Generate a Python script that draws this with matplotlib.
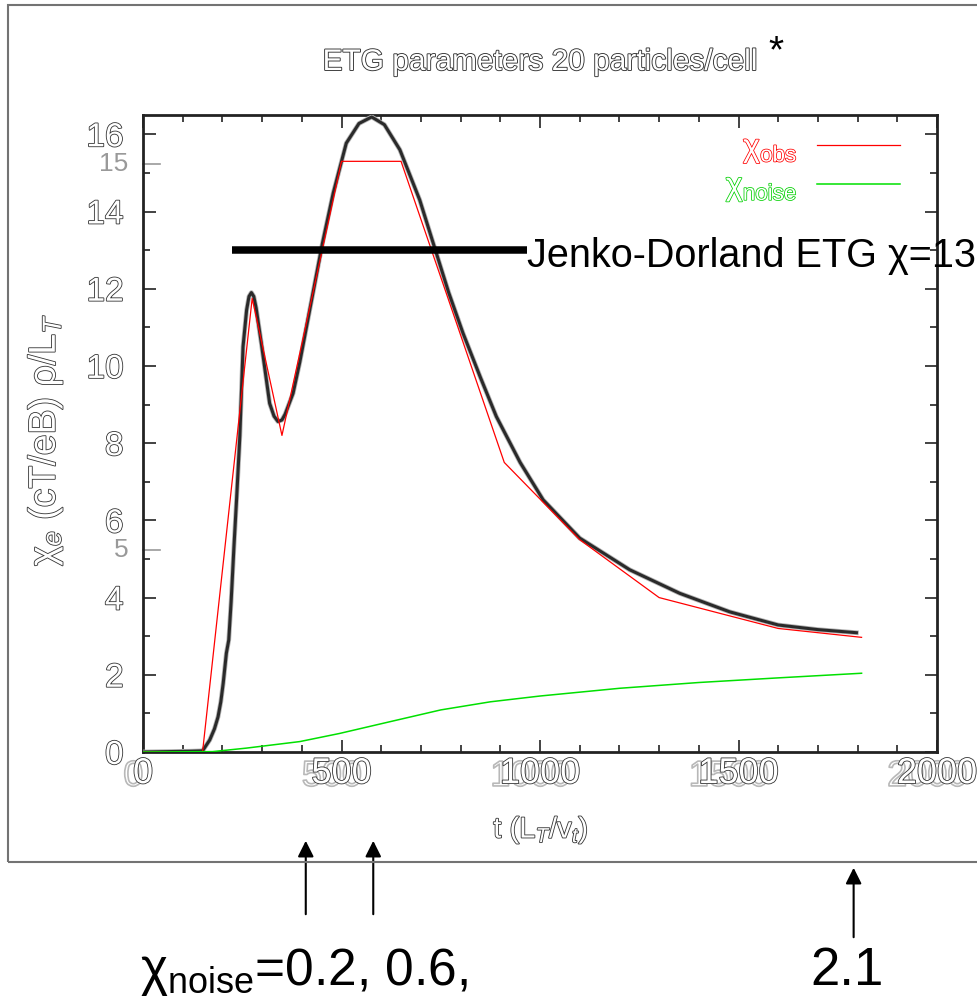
import numpy as np
import matplotlib
matplotlib.use("Agg")
import matplotlib.pyplot as plt
import matplotlib.patheffects as pe
import matplotlib.transforms as mtransforms
from matplotlib.patches import Rectangle

plt.rcParams['font.family'] = ['Liberation Sans', 'DejaVu Sans']
plt.rcParams['mathtext.fontset'] = 'custom'
plt.rcParams['mathtext.rm'] = 'Liberation Sans'
plt.rcParams['mathtext.it'] = 'Liberation Sans:italic'

# chi_e (black curve)
t_chi = [0, 120, 150, 168, 180, 189, 196, 202, 210, 216, 222, 229, 236, 244, 252, 261, 267, 273,
         279, 285, 298, 319, 330, 340, 350, 358, 378, 395, 412, 432, 452, 479, 512, 544, 576,
         608, 647, 697, 731, 770, 806, 850, 890, 950, 1008, 1100, 1226, 1352,
         1478, 1600, 1700, 1797]
v_chi = [0, 0.02, 0.03, 0.31, 0.6, 0.91, 1.3, 1.78, 2.56, 2.9, 3.9, 5.3, 6.6, 8.2, 10.5, 11.45, 11.8, 11.9,
         11.8, 11.5, 10.59, 9.03, 8.7, 8.56, 8.6, 8.75, 9.29, 10.1, 11.02, 12.1, 13.18, 14.47, 15.77, 16.28, 16.45,
         16.25, 15.6, 14.3, 13.18, 11.9, 10.85, 9.7, 8.69, 7.5, 6.53, 5.54, 4.72, 4.11,
         3.63, 3.29, 3.17, 3.09]

# chi_obs (red)
t_obs = [0, 150, 275, 350, 500, 650, 910, 1100, 1300, 1600, 1810]
v_obs = [0, 0, 11.75, 8.2, 15.3, 15.3, 7.5, 5.5, 4.0, 3.2, 2.97]

# chi_noise (green)
t_noise = [0, 175, 260, 395, 495, 620, 750, 875, 1000, 1200, 1400, 1600, 1810]
v_noise = [0, 0.01, 0.1, 0.27, 0.48, 0.78, 1.09, 1.30, 1.45, 1.65, 1.80, 1.92, 2.04]

jd_chi = 13
jd_t = [225, 968]
arrow_t = [410, 580, 1790]


def hollow(edge='#333333', lw=1.2, shadow=None):
    fx = []
    if shadow is not None:
        fx.append(pe.Stroke(offset=shadow, linewidth=lw, foreground='0.72'))
    fx += [pe.Stroke(linewidth=lw, foreground=edge), pe.Normal()]
    return fx


fig = plt.figure(figsize=(9.77, 10), dpi=100)
ax = fig.add_axes([143 / 977, 248 / 1000, 794 / 977, 637 / 1000])

ax.plot(t_chi, v_chi, color='#2a2a2a', lw=2.2, solid_joinstyle='round',
        path_effects=[pe.Stroke(linewidth=3.4, foreground='0.7'), pe.Normal()], zorder=3)
ax.plot(t_obs, v_obs, color='#ff0000', lw=0.9, label='χ$_{\\rm obs}$', zorder=4)
ax.plot(t_noise, v_noise, color='#00e000', lw=1.1, label='χ$_{\\rm noise}$', zorder=4)
ax.hlines(jd_chi, jd_t[0], jd_t[1], colors='black', lw=5.4, zorder=5)

ax.set_xlim(0, 2000)
ax.set_ylim(0, 16.5)
ax.set_xticks([0, 500, 1000, 1500, 2000])
ax.set_xticks(np.arange(0, 2001, 100), minor=True)
ax.set_yticks(np.arange(0, 17, 2))
ax.set_yticks(np.arange(0, 17, 1), minor=True)
ax.tick_params(which='both', direction='in', top=True, right=True, width=1.2, color='#222222')
ax.tick_params(which='major', length=9)
ax.tick_params(which='minor', length=5)
ax.tick_params(axis='x', pad=3)
ax.tick_params(axis='y', pad=14)
for s in ax.spines.values():
    s.set_linewidth(2)
    s.set_color('#222222')

for lab in ax.get_xticklabels():
    lab.set_fontsize(26)
    lab.set_color('white')
    lab.set_path_effects(hollow(shadow=(-7, -2)))
for lab in ax.get_yticklabels():
    lab.set_fontsize(24)
    lab.set_color('white')
    lab.set_path_effects(hollow())

# faint overlay labels of the pasted second axis
blend_y = mtransforms.blended_transform_factory(ax.transAxes, ax.transData)
for val, txt in [(15.23, '15'), (5.24, '5')]:
    ax.text(-0.018, val, txt, transform=blend_y, ha='right', va='center',
            fontsize=19, color='0.6')
    ax.plot([0, 0.022], [val, val], transform=blend_y, color='0.6', lw=1.2, clip_on=False)

ax.set_xlabel('t (L$_T$/v$_t$)', fontsize=21, color='white')
ax.xaxis.label.set_path_effects(hollow())
ax.xaxis.set_label_coords(0.501, -0.122)
ax.xaxis.label.set_va('center')
ax.set_ylabel('χ$_e$ (cT/eB) ρ/L$_T$', fontsize=27, color='white')
ax.yaxis.label.set_path_effects(hollow())
ax.yaxis.set_label_coords(-0.1234, 0.49)
ax.yaxis.label.set_va('center')

leg = ax.legend(loc='upper right', bbox_to_anchor=(0.953, 0.971), frameon=False,
                markerfirst=False, fontsize=23, handlelength=2.6, handletextpad=0.6,
                labelspacing=0.2, borderpad=0, borderaxespad=0)
for txt, c in zip(leg.get_texts(), ['#ff0000', '#00d000']):
    txt.set_color('white')
    txt.set_path_effects(hollow(edge=c, lw=1.1))

fig.text(540 / 977, 1 - 62 / 1000, 'ETG parameters 20 particles/cell', fontsize=21.5,
         ha='center', va='center', color='white', path_effects=hollow(edge='#333333', lw=1.3))
fig.text(776 / 977, 1 - 52 / 1000, '*', fontsize=28, ha='center', va='center', color='black')
fig.text(527 / 977, 1 - 267 / 1000, 'Jenko-Dorland ETG χ=13', fontsize=28.5,
         ha='left', va='baseline', color='black')

blend_x = mtransforms.blended_transform_factory(ax.transData, fig.transFigure)
for t, tail, tip in zip(arrow_t, [1 - 917 / 1000, 1 - 917 / 1000, 1 - 940 / 1000],
                        [1 - 838 / 1000, 1 - 838 / 1000, 1 - 865 / 1000]):
    ax.annotate('', xy=(t, tip), xycoords=blend_x, xytext=(t, tail), textcoords=blend_x,
                arrowprops=dict(arrowstyle='-|>', color='black', lw=1.5, mutation_scale=24),
                annotation_clip=False)

fig.text(140 / 977, 1 - 985 / 1000, 'χ$_{\\rm noise}$=0.2, 0.6,', fontsize=37,
         ha='left', va='baseline', color='black')
fig.text(847 / 977, 1 - 985 / 1000, '2.1', fontsize=38, ha='center', va='baseline', color='black')

fig.add_artist(Rectangle((8 / 977, 1 - 862 / 1000), 1.2, (862 - 5) / 1000, transform=fig.transFigure,
                         fill=False, ec='0.45', lw=1.5))

fig.savefig('out.png', dpi=100)
